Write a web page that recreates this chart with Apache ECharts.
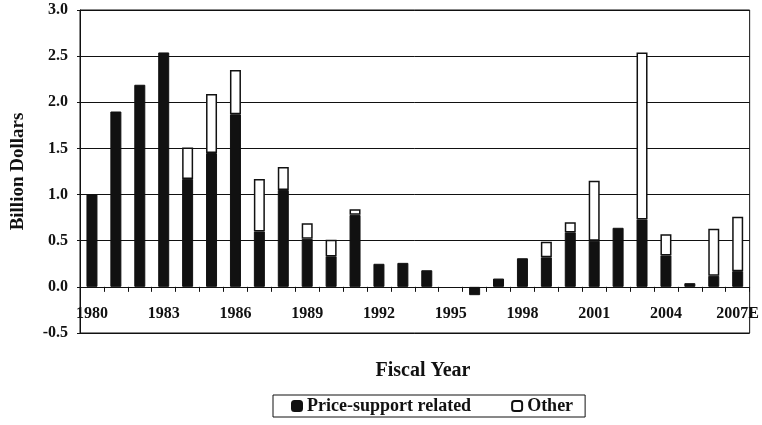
<!DOCTYPE html>
<html>
<head>
<meta charset="utf-8">
<script src="https://cdn.jsdelivr.net/npm/echarts@6/dist/echarts.min.js"></script>
<style>html,body{margin:0;padding:0;background:#fff;}#c{width:762px;height:425px;}</style>
</head>
<body>
<div id="c"></div>
<script>
var years = ['1980','1981','1982','1983','1984','1985','1986','1987','1988','1989','1990','1991','1992','1993','1994','1995','1996','1997','1998','1999','2000','2001','2002','2003','2004','2005','2006','2007E'];
var priceSupport = [1.00,1.90,2.19,2.54,1.17,1.45,1.87,0.60,1.05,0.52,0.33,0.78,0.25,0.26,0.18,0,-0.09,0.09,0.31,0.32,0.59,0.50,0.64,0.73,0.34,0.04,0.12,0.17];
var other = [0,0,0,0,0.34,0.64,0.48,0.57,0.25,0.17,0.18,0.06,0,0,0,0,0,0,0,0.17,0.11,0.65,0,1.81,0.23,0,0.51,0.59];
var yTicks = {min:-0.5, max:3.0, step:0.5};

var FONT = '"Liberation Serif", "DejaVu Serif", serif';
var GRID = {left:80, right:11, top:10, bottom:92};
var plotH = 425 - GRID.top - GRID.bottom;
// move category axis up to the zero line of the value axis
var zeroOffset = -plotH * (0 - yTicks.min) / (yTicks.max - yTicks.min);
function noZero(arr){ return arr.map(function(v){ return v === 0 ? null : v; }); }

var chart = echarts.init(document.getElementById('c'), null, {renderer:'canvas'});
chart.setOption({
  animation:false,
  backgroundColor:'#fff',
  title:{text:'Fiscal Year', left:418, textAlign:'center', top:356,
    textStyle:{fontFamily:FONT, fontWeight:'bold', fontSize:20, color:'#111'}},
  grid:{left:GRID.left, right:GRID.right, top:GRID.top, bottom:GRID.bottom, show:true, borderColor:'#111', borderWidth:1},
  legend:{data:['Price-support related','Other'], left:273, top:395, orient:'horizontal',
    itemWidth:10, itemHeight:10, itemGap:40, padding:[2,12,2,18],
    borderColor:'#111', borderWidth:1, borderRadius:0,
    textStyle:{fontFamily:FONT, fontWeight:'bold', fontSize:18, color:'#111'}},
  xAxis:{type:'category', data:years, position:'bottom', offset:zeroOffset,
    axisLine:{onZero:false, lineStyle:{color:'#111', width:1}},
    axisTick:{show:true, interval:0, length:5, lineStyle:{color:'#111'}},
    axisLabel:{interval:2, margin:19, fontFamily:FONT, fontWeight:'bold', fontSize:16, color:'#111'},
    splitLine:{show:false}},
  yAxis:{type:'value', min:yTicks.min, max:yTicks.max, interval:yTicks.step,
    name:'Billion Dollars', nameLocation:'middle', nameGap:52, nameRotate:90,
    nameTextStyle:{fontFamily:FONT, fontWeight:'bold', fontSize:19, color:'#111'},
    axisLine:{show:true, onZero:false, lineStyle:{color:'#111'}},
    axisTick:{show:true, length:3, lineStyle:{color:'#111'}},
    axisLabel:{margin:12, formatter:function(v){return v.toFixed(1);}, fontFamily:FONT, fontWeight:'bold', fontSize:16, color:'#111'},
    splitLine:{show:true, lineStyle:{color:'#111', width:1}}},
  series:[
    {name:'Price-support related', type:'bar', stack:'t', data:noZero(priceSupport), barWidth:11,
      itemStyle:{color:'#111', borderColor:'#111', borderWidth:1}},
    {name:'Other', type:'bar', stack:'t', data:noZero(other), barWidth:11,
      itemStyle:{color:'#fff', borderColor:'#111', borderWidth:1.5}}
  ]
});
</script>
</body>
</html>
